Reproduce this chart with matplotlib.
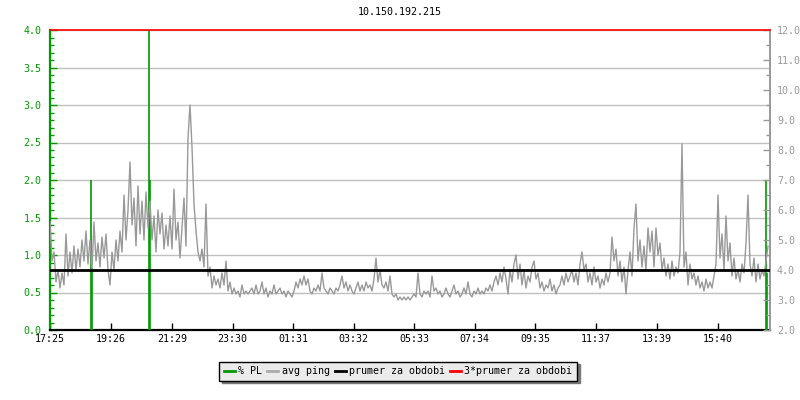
import numpy as np
import matplotlib
matplotlib.use("Agg")
import matplotlib.pyplot as plt
from matplotlib.lines import Line2D
from matplotlib.ticker import MultipleLocator, FormatStrFormatter

# ---------------- data ----------------
title = "10.150.192.215"
start_time = "17:25"
sample_minutes = 4          # avg ping sample interval
span_minutes = 1440         # 24 h shown

# avg ping (ms, right axis), one value every 4 minutes from 17:25
avg_ping = [
    5.6, 4.3, 4.6, 3.6, 4.0, 3.4, 3.9, 3.5, 5.2, 3.8, 4.6, 3.9, 4.8, 4.0, 4.7, 4.1, 5.0, 4.3, 5.3, 4.2,
    5.0, 4.0, 5.6, 4.3, 4.9, 4.1, 5.1, 4.4, 5.2, 4.0, 3.5, 4.6, 4.0, 5.0, 4.3, 5.3, 4.6, 6.5, 5.0, 6.0,
    7.6, 5.5, 6.4, 4.8, 6.8, 5.2, 6.3, 5.0, 6.6, 5.4, 6.3, 5.0, 5.8, 4.6, 6.0, 5.2, 5.9, 4.7, 5.5, 4.8,
    5.8, 4.7, 6.7, 5.0, 5.6, 4.4, 5.4, 6.4, 4.8, 8.4, 9.5, 8.1, 6.2, 5.3, 4.6, 4.3, 4.7, 4.1, 6.2, 3.8,
    4.1, 3.4, 3.8, 3.5, 3.7, 3.4, 3.9, 3.5, 4.3, 3.3, 3.6, 3.2, 3.4, 3.2, 3.3, 3.1, 3.5, 3.2, 3.3, 3.2,
    3.3, 3.4, 3.2, 3.5, 3.2, 3.3, 3.6, 3.2, 3.4, 3.1, 3.3, 3.2, 3.5, 3.2, 3.3, 3.4, 3.2, 3.3, 3.1, 3.3,
    3.2, 3.1, 3.3, 3.6, 3.4, 3.7, 3.5, 3.8, 3.5, 3.7, 3.3, 3.2, 3.4, 3.3, 3.5, 3.3, 3.9, 3.4, 3.3, 3.2,
    3.4, 3.3, 3.2, 3.4, 3.3, 3.5, 3.8, 3.4, 3.6, 3.3, 3.5, 3.3, 3.2, 3.4, 3.6, 3.3, 3.5, 3.3, 3.6, 3.4,
    3.5, 3.3, 3.7, 4.4, 3.6, 4.0, 3.5, 3.4, 3.6, 3.3, 3.8, 3.2, 3.1, 3.2, 3.0, 3.1, 3.0, 3.1, 3.0, 3.1,
    3.0, 3.1, 3.2, 3.1, 3.9, 3.2, 3.1, 3.3, 3.2, 3.3, 3.1, 3.8, 3.3, 3.4, 3.2, 3.3, 3.1, 3.2, 3.4, 3.2,
    3.1, 3.3, 3.5, 3.2, 3.3, 3.1, 3.2, 3.4, 3.2, 3.6, 3.2, 3.1, 3.3, 3.2, 3.4, 3.2, 3.3, 3.2, 3.4, 3.3,
    3.5, 3.3, 3.6, 3.8, 3.5, 3.9, 3.6, 4.1, 3.7, 3.2, 4.0, 3.6, 4.2, 4.5, 3.7, 4.2, 3.5, 4.0, 3.4, 3.8,
    3.6, 4.1, 4.3, 3.7, 3.9, 3.4, 3.6, 3.3, 3.5, 3.4, 3.7, 3.3, 3.5, 3.2, 3.4, 3.5, 3.8, 3.5, 3.9, 3.6,
    3.8, 4.0, 3.6, 3.9, 3.5, 4.2, 4.6, 4.0, 4.2, 3.6, 3.9, 3.5, 4.1, 3.6, 3.8, 3.4, 3.7, 3.5, 3.9, 3.6,
    3.9, 5.1, 4.3, 4.7, 3.8, 4.3, 3.6, 4.1, 3.2, 4.0, 4.6, 3.8, 5.4, 6.2, 4.3, 5.0, 4.1, 4.8, 4.0, 5.4,
    4.6, 5.3, 4.1, 5.4, 4.5, 4.9, 4.0, 4.4, 3.8, 4.2, 3.7, 4.3, 3.8, 4.1, 3.9, 4.6, 8.2, 4.1, 4.6, 3.5,
    4.2, 3.7, 3.9, 3.5, 3.8, 3.4, 3.6, 3.3, 3.7, 3.4, 3.6, 3.4, 3.8, 4.2, 6.5, 4.4, 5.2, 4.0, 5.8, 4.3,
    4.9, 3.8, 4.4, 3.7, 4.0, 3.6, 4.2, 3.9, 4.9, 6.5, 4.2, 3.8, 4.4, 3.6, 4.2, 3.7, 4.0, 3.8, 4.3, 4.8,
]

# packet loss events (%, left axis): minutes after 17:25 and value
pl_minutes = [82, 83, 198, 199, 1432, 1433]
pl_values = [2.0, 0.83, 4.0, 2.0, 2.0, 0.76]

mean_ping = 4.0             # prumer za obdobi (ms)
mean_factor = 3             # 3*prumer

tick_labels = ["17:25", "19:26", "21:29", "23:30", "01:31", "03:32",
               "05:33", "07:34", "09:35", "11:37", "13:39", "15:40"]

# ---------------- styling ----------------
GREEN = "#009900"
GRAY = "#999999"
GRID = "#c0c0c0"
RED = "#ff0000"
FONT = "DejaVu Sans Mono"
FS = 7.2
plt.rcParams["font.family"] = [FONT]
plt.rcParams["font.size"] = FS

def to_min(s):
    h, m = map(int, s.split(":"))
    return h * 60 + m

t0 = to_min(start_time)
tick_pos = [((to_min(s) - t0) % 1440) for s in tick_labels]

fig = plt.figure(figsize=(8, 4), dpi=100)
ax = fig.add_axes([50 / 800, 70 / 400, 720 / 800, 300 / 400])
ax2 = ax.twinx()

# left axis (PL)
ax.set_xlim(0, span_minutes)
ax.set_ylim(0, 4)
ax.yaxis.set_major_locator(MultipleLocator(0.5))
ax.yaxis.set_minor_locator(MultipleLocator(0.1))
ax.yaxis.set_major_formatter(FormatStrFormatter("%.1f"))
ax.grid(axis="y", color=GRID, lw=1, zorder=0)
ax.set_axisbelow(True)

# right axis (ping)
ax2.set_ylim(2, 12)
ax2.yaxis.set_major_locator(MultipleLocator(1.0))
ax2.yaxis.set_minor_locator(MultipleLocator(0.5))
ax2.yaxis.set_major_formatter(FormatStrFormatter("%.1f"))

# x axis
ax.set_xticks(tick_pos)
ax.set_xticklabels(tick_labels)

# draw marks
ax.vlines(pl_minutes, 0, pl_values, colors=GREEN, lw=1.2, zorder=3)
t = np.arange(len(avg_ping)) * sample_minutes
ax2.plot(t, avg_ping, color=GRAY, lw=1.0, zorder=2)
ax2.axhline(mean_ping, color="black", lw=2, zorder=4)
ax2.axhline(mean_ping * mean_factor, color=RED, lw=1.2, zorder=4, clip_on=False)
ax2.set_xlim(0, span_minutes)

# spines
for a in (ax, ax2):
    a.spines["top"].set_visible(False)
ax.spines["left"].set_color(GREEN)
ax.spines["left"].set_linewidth(1.6)
ax.spines["bottom"].set_color("black")
ax.spines["bottom"].set_linewidth(1.6)
ax.spines["right"].set_visible(False)
ax2.spines["left"].set_visible(False)
ax2.spines["bottom"].set_visible(False)
ax2.spines["right"].set_color(GRAY)
ax2.spines["right"].set_linewidth(1.4)

ax.tick_params(axis="y", which="major", direction="in", length=5, width=1, color=GREEN,
               labelcolor=GREEN, labelsize=FS, pad=6)
ax.tick_params(axis="y", which="minor", direction="in", length=3, width=1, color=GREEN)
ax.tick_params(axis="x", which="major", direction="in", length=5, width=1, color="black",
               labelcolor="black", labelsize=FS, pad=3)
ax2.tick_params(axis="y", which="major", direction="in", length=5, width=1, color=GRAY,
                labelcolor=GRAY, labelsize=FS, pad=5)
ax2.tick_params(axis="y", which="minor", direction="in", length=3, width=1, color=GRAY)

fig.text(0.5, 1 - 12 / 400, title, ha="center", va="center", fontsize=FS, family=FONT)

handles = [Line2D([], [], color=GREEN, lw=2),
           Line2D([], [], color="#aaaaaa", lw=2),
           Line2D([], [], color="black", lw=2),
           Line2D([], [], color=RED, lw=2)]
labels = ["% PL", "avg ping", "prumer za obdobi", "3*prumer za obdobi"]
leg = fig.legend(handles, labels, loc="center", bbox_to_anchor=(398 / 800, 1 - 371 / 400),
                 ncol=4, fontsize=FS, frameon=True, fancybox=False,
                 shadow={"color": "#777777", "alpha": 1},
                 handlelength=1.1, handletextpad=0.35, columnspacing=0.5, borderpad=0.45,
                 borderaxespad=0)
leg.get_frame().set_edgecolor("black")
leg.get_frame().set_facecolor("#ebebeb")
leg.get_frame().set_linewidth(1)
leg.get_frame().set_alpha(1)

fig.savefig("out.png", dpi=100)
